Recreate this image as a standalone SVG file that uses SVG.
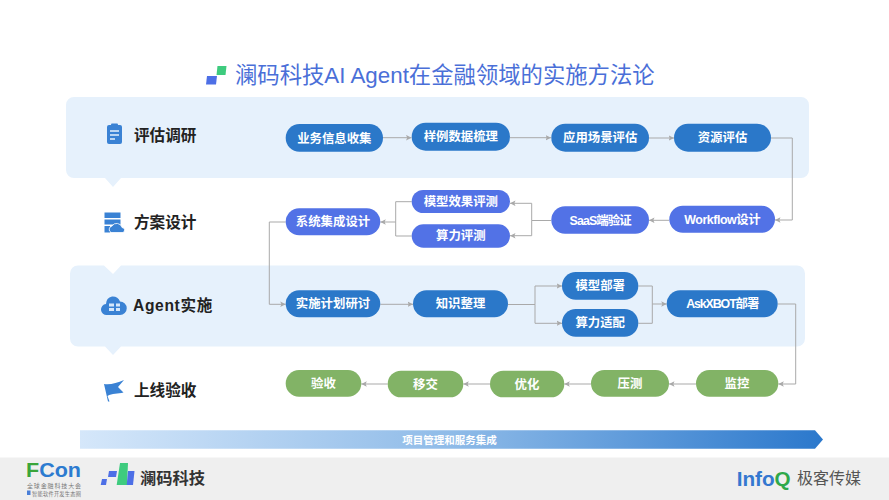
<svg xmlns="http://www.w3.org/2000/svg" width="889" height="500" viewBox="0 0 889 500">
<style>
text{font-family:"Liberation Sans","Noto Sans CJK SC",sans-serif}
.n{font-size:12.4px;font-weight:700;fill:#fff;text-anchor:middle}
.sec{font-size:15.6px;font-weight:700;fill:#222}
.a{fill:#2b78c9}.b{fill:#5272e6}.g{fill:#82b366}
.c{fill:none;stroke:#a9a9a9;stroke-width:1}
.ca{fill:none;stroke:#a9a9a9;stroke-width:1;marker-end:url(#ah)}
.ic{fill:#3a82d4}
</style>
<defs>
<marker id="ah" markerUnits="userSpaceOnUse" markerWidth="7" markerHeight="7" refX="5.5" refY="3" orient="auto"><path d="M0 0.2L5.5 3L0 5.8L1.2 3Z" fill="#a9a9a9"/></marker>
<linearGradient id="bar" x1="0" x2="1" y1="0" y2="0"><stop offset="0" stop-color="#d5e7fa"/><stop offset="0.5" stop-color="#8fbbe8"/><stop offset="1" stop-color="#2b78cc"/></linearGradient>
</defs>
<rect width="889" height="500" fill="#fff"/>
<g id="title">
<path d="M207 76H217L216 84.500H206Z" fill="#4d6fe6"/><path d="M217.500 66H226.500L225.500 75H216.500Z" fill="#3ecb7e"/>
<text x="235" y="83" font-size="22.350" fill="#4a6fd8">澜码科技AI Agent在金融领域的实施方法论</text>
</g>
<g id="bands">
<path d="M74 97H801a8 8 0 0 1 8 8V170a8 8 0 0 1-8 8H121L113 187L105 178H74a8 8 0 0 1-8-8V105a8 8 0 0 1 8-8Z" fill="#e6f1fc"/>
<path d="M78 265.500H104L113 274L121 265.500H797a8 8 0 0 1 8 8V338.500a8 8 0 0 1-8 8H121L113 355L105 346.500H78a8 8 0 0 1-8-8V273.500a8 8 0 0 1 8-8Z" fill="#e6f1fc"/>
</g>
<g id="sec1"><rect x="107" y="125" width="15" height="19" rx="2" class="ic"/><rect x="111" y="123.500" width="7" height="3" rx="1" class="ic"/><path d="M110 131H119M110 135H119M110 139H115" stroke="#e6f1fc" stroke-width="1.500"/><text class="sec" x="134" y="141">评估调研</text></g>
<g id="sec2"><rect x="104.500" y="212.500" width="16" height="5.500" class="ic"/><rect x="104.500" y="219.500" width="16" height="5" class="ic"/><path d="M104.500 226H110V232.500H104.500Z" class="ic"/><path d="M111 232.500a3.500 3.500 0 0 1 1-6.500a5.500 5.500 0 0 1 10 1.500a2.600 2.600 0 0 1 1 5Z" class="ic" stroke="#fff" stroke-width="0.800"/><text class="sec" x="134" y="228">方案设计</text></g>
<g id="sec3"><path d="M107 315a5.500 5.500 0 0 1-1-11a8 8 0 0 1 6-7.500a8 8 0 0 1 8 5a6.500 6.500 0 0 1 0 13.500Z" class="ic"/><path d="M109 303.500h5v3h-5zM109 308h5v3h-5zM116 303.500h4v3h-4zM116 308h4v3h-4z" fill="#d5e7fa"/><text class="sec" x="133" y="311" letter-spacing="0.650">Agent实施</text></g>
<g id="sec4"><path d="M104 384C110 385 117 383 124 380L118 387L123.500 392.500C118 394 112 393 107.500 396L109.500 401.500L108 401.500Z" class="ic"/><text class="sec" x="134" y="396">上线验收</text></g>
<g id="connectors">
<path class="ca" d="M383 137.700H411.500"/>
<path class="ca" d="M510 137.700H551"/>
<path class="ca" d="M649 138H674"/>
<path class="ca" d="M771 138H792.300V220H775"/>
<path class="ca" d="M669.300 220.300H649"/>
<path class="c" d="M551.300 220.500H531.700"/>
<path class="ca" d="M531.700 220.500V203.300H510"/>
<path class="ca" d="M531.700 220.500V235.700H510"/>
<path class="c" d="M411.700 201.700H395.700V236H411.700"/>
<path class="ca" d="M395.700 222H380.300"/>
<path class="ca" d="M285.700 222H269.300V304.300H285.700"/>
<path class="ca" d="M380.300 304.300H413"/>
<path class="c" d="M508 304.500H535"/>
<path class="ca" d="M535 304.500V286H562"/>
<path class="ca" d="M535 304.500V323.300H562"/>
<path class="c" d="M638.300 286H652.300V323.300H638.300"/>
<path class="ca" d="M652.300 304H666.700"/>
<path class="ca" d="M777.700 304H795.700V384H778.300"/>
<path class="ca" d="M696 384H669"/>
<path class="ca" d="M591 384H564.300"/>
<path class="ca" d="M490 384H463.300"/>
<path class="ca" d="M387.700 384H361.300"/>
</g>
<g id="n1"><rect class="a" x="285.700" y="124" width="97.300" height="27.700" rx="13.800"/><text class="n" x="334.300" y="142.500">业务信息收集</text></g>
<g id="n2"><rect class="a" x="411.700" y="122.700" width="98.300" height="28" rx="14"/><text class="n" x="460.800" y="141.300">样例数据梳理</text></g>
<g id="n3"><rect class="a" x="551.300" y="123.700" width="97.700" height="28" rx="14"/><text class="n" x="600.200" y="142">应用场景评估</text></g>
<g id="n4"><rect class="a" x="674" y="123.700" width="97" height="28" rx="14"/><text class="n" x="722.500" y="142">资源评估</text></g>
<g id="n5"><rect class="b" x="669.300" y="205.700" width="105.700" height="27" rx="13.500"/><text class="n" x="722.200" y="223.800" letter-spacing="-0.450">Workflow设计</text></g>
<g id="n6"><rect class="b" x="551.300" y="206.300" width="97.700" height="27.400" rx="13.700"/><text class="n" x="600.200" y="224.500" letter-spacing="-0.900">SaaS端验证</text></g>
<g id="n7"><rect class="b" x="411.700" y="190" width="98.300" height="23" rx="11.500"/><text class="n" x="460.800" y="205.800">模型效果评测</text></g>
<g id="n8"><rect class="b" x="411.700" y="224.300" width="98.300" height="23.400" rx="11.700"/><text class="n" x="460.800" y="240.300">算力评测</text></g>
<g id="n9"><rect class="b" x="285.700" y="208.300" width="94.600" height="27" rx="13.500"/><text class="n" x="333" y="226.300">系统集成设计</text></g>
<g id="n10"><rect class="a" x="285.700" y="290.300" width="94.600" height="27" rx="13.500"/><text class="n" x="333" y="308">实施计划研讨</text></g>
<g id="n11"><rect class="a" x="413" y="290.300" width="95" height="27" rx="13.500"/><text class="n" x="460.500" y="308">知识整理</text></g>
<g id="n12"><rect class="a" x="562" y="272" width="76.300" height="27.700" rx="13.800"/><text class="n" x="600.200" y="290">模型部署</text></g>
<g id="n13"><rect class="a" x="562" y="309" width="76.300" height="27.700" rx="13.800"/><text class="n" x="600.200" y="327">算力适配</text></g>
<g id="n14"><rect class="a" x="666.700" y="290.300" width="111" height="27" rx="13.500"/><text class="n" x="722.200" y="308" letter-spacing="-1.100">AskXBOT部署</text></g>
<g id="n15"><rect class="g" x="696" y="370" width="82.300" height="26.700" rx="13.300"/><text class="n" x="737" y="388">监控</text></g>
<g id="n16"><rect class="g" x="591" y="370" width="78" height="26.700" rx="13.300"/><text class="n" x="630" y="388">压测</text></g>
<g id="n17"><rect class="g" x="490" y="370.700" width="74.300" height="26.600" rx="13.300"/><text class="n" x="527" y="388.500">优化</text></g>
<g id="n18"><rect class="g" x="387.700" y="370.700" width="75.600" height="26.600" rx="13.300"/><text class="n" x="425.500" y="388.500">移交</text></g>
<g id="n19"><rect class="g" x="285.700" y="370" width="75.600" height="26.700" rx="13.300"/><text class="n" x="323.500" y="387.500">验收</text></g>
<g id="bar-arrow"><path d="M80 430.300H815L823 439.500L815 448.700H80Z" fill="url(#bar)"/><text x="449.500" y="443.500" font-size="10.500" font-weight="700" fill="#fff" text-anchor="middle">项目管理和服务集成</text></g>
<g id="footer">
<rect y="457.500" width="889" height="42.500" fill="#efefef"/>
<text x="26" y="477" font-size="20" font-weight="700" fill="#2c7bd0" textLength="55" lengthAdjust="spacingAndGlyphs"><tspan fill="#3aa53a">F</tspan>Con</text>
<text x="27" y="488" font-size="6" fill="#777" textLength="54">全球金融科技大会</text>
<rect x="27" y="490.500" width="3.500" height="4.500" fill="#4a7fd8"/>
<text x="32" y="495.500" font-size="5.200" fill="#777" textLength="49">智能软件开发生态圈</text>
<path d="M102 479H107L106 485H100.700Z" fill="#4d6fe6"/><path d="M109 471H117L116 477H108Z" fill="#4d6fe6"/><path d="M120 463H128L127 485H116.700Z" fill="#3ecb7e"/><path d="M128 471H134.500L133 485H126.700Z" fill="#4d6fe6"/>
<text x="140" y="484" font-size="16.300" font-weight="700" fill="#333">澜码科技</text>
<text x="736.700" y="486" font-size="20" font-weight="700" fill="#3478d0" textLength="54" lengthAdjust="spacingAndGlyphs">Info<tspan fill="#2fa84a">Q</tspan></text>
<text x="797" y="484" font-size="16" fill="#555">极客传媒</text>
</g>
</svg>
